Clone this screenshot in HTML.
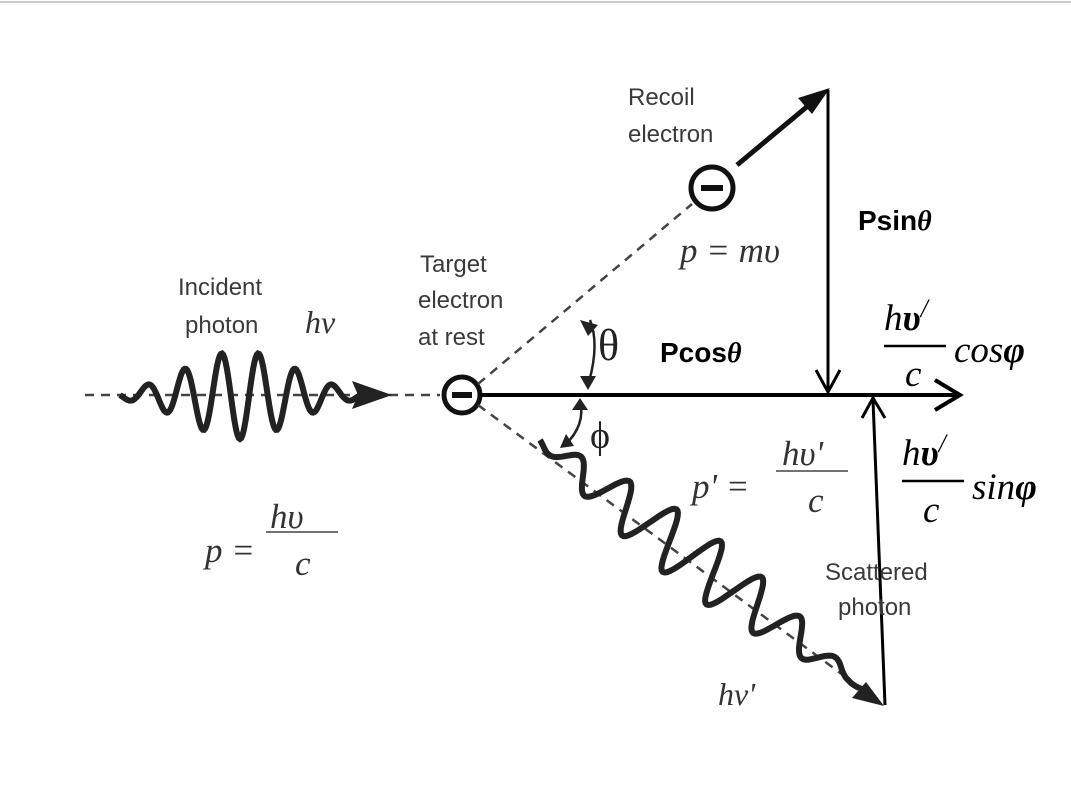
<!DOCTYPE html>
<html><head><meta charset="utf-8"><style>
html,body{margin:0;padding:0;background:#fff;}
svg{display:block}
.sans{font-family:"Liberation Sans",sans-serif;fill:#3a3a3a}
.ser{font-family:"Liberation Serif",serif;font-style:italic;fill:#333}
.cam{font-family:"Liberation Serif",serif;font-style:italic;fill:#000}
.b{font-family:"Liberation Sans",sans-serif;font-weight:bold;fill:#000}
</style></head><body>
<svg width="1071" height="808" viewBox="0 0 1071 808">
<line x1="0" y1="2" x2="1071" y2="2" stroke="#ccc" stroke-width="2"/>
<line x1="85" y1="395" x2="440" y2="395" stroke="#444" stroke-width="2.5" stroke-dasharray="9,7"/>
<path id="inwave" fill="none" stroke="#222" stroke-width="6"/>
<polygon points="392,395 352,381 358,395 352,409" fill="#222"/>
<circle cx="462" cy="395" r="18" fill="#fff" stroke="#111" stroke-width="5"/>
<rect x="452" y="392" width="20" height="6" fill="#111"/>
<line x1="480" y1="395" x2="958" y2="395" stroke="#000" stroke-width="4"/>
<polyline points="935,380 960,395 935,410" fill="none" stroke="#000" stroke-width="4"/>
<line x1="478" y1="384" x2="692" y2="204" stroke="#444" stroke-width="2.5" stroke-dasharray="9,7"/>
<circle cx="712" cy="188" r="21" fill="#fff" stroke="#111" stroke-width="5"/>
<rect x="701" y="185" width="22" height="6" fill="#111"/>
<line x1="737" y1="165" x2="815" y2="100" stroke="#111" stroke-width="5" />
<polygon points="830,88 798,98 812,114" fill="#111"/>
<line x1="828" y1="90" x2="828" y2="390" stroke="#000" stroke-width="3"/>
<polyline points="816,370 828,392 840,370" fill="none" stroke="#000" stroke-width="3"/>
<line x1="478" y1="405" x2="870" y2="695" stroke="#444" stroke-width="2.5" stroke-dasharray="9,7"/>
<path id="scwave" fill="none" stroke="#222" stroke-width="6"/>
<polygon points="884,706 852,698 866,682" fill="#222"/>
<line x1="885" y1="705" x2="873" y2="400" stroke="#000" stroke-width="3"/>
<polyline points="862,418 873,398 885,418" fill="none" stroke="#000" stroke-width="3"/>
<path d="M590,320 Q600,345 588,385" fill="none" stroke="#222" stroke-width="2.5"/>
<polygon points="580,320 598,325 588,336" fill="#222"/><polygon points="588,390 580,376 596,376" fill="#222"/>
<path d="M580,400 Q586,425 565,445" fill="none" stroke="#222" stroke-width="2.5"/>
<polygon points="580,398 572,410 588,410" fill="#222"/><polygon points="560,448 566,434 574,446" fill="#222"/>
<text class="sans" x="178" y="295" font-size="24">Incident</text>
<text class="sans" x="185" y="333" font-size="24">photon</text>
<text class="ser" x="305" y="333" font-size="32">hν</text>
<text class="sans" x="420" y="272" font-size="24">Target</text>
<text class="sans" x="418" y="308" font-size="24">electron</text>
<text class="sans" x="418" y="345" font-size="24">at rest</text>
<text x="598" y="360" font-size="44" font-family="Liberation Serif,serif" fill="#222">θ</text>
<text x="590" y="448" font-size="38" font-family="Liberation Serif,serif" fill="#222">ϕ</text>
<text class="sans" x="628" y="105" font-size="24">Recoil</text>
<text class="sans" x="628" y="142" font-size="24">electron</text>
<text class="ser" x="680" y="262" font-size="35">p = mυ</text>
<text class="b" x="858" y="230" font-size="28">Psin<tspan class="cam" font-weight="bold">θ</tspan></text>
<text class="b" x="660" y="362" font-size="28">Pcos<tspan class="cam" font-weight="bold">θ</tspan></text>
<g>
<text class="cam" x="884" y="330" font-size="37">h<tspan font-weight="bold">υ</tspan><tspan font-size="26" dy="-13">/</tspan></text>
<line x1="884" y1="346" x2="946" y2="346" stroke="#000" stroke-width="2.5"/>
<text class="cam" x="905" y="386" font-size="37">c</text>
<text class="cam" x="954" y="362" font-size="37">cos<tspan font-weight="bold">φ</tspan></text></g>
<g>
<text class="cam" x="902" y="465" font-size="37">h<tspan font-weight="bold">υ</tspan><tspan font-size="26" dy="-13">/</tspan></text>
<line x1="902" y1="481" x2="964" y2="481" stroke="#000" stroke-width="2.5"/>
<text class="cam" x="923" y="522" font-size="37">c</text>
<text class="cam" x="972" y="499" font-size="37">sin<tspan font-weight="bold">φ</tspan></text></g>
<g>
<text class="ser" x="205" y="562" font-size="35">p =</text>
<text class="ser" x="270" y="528" font-size="35">hυ</text>
<line x1="266" y1="532" x2="338" y2="532" stroke="#444" stroke-width="1.5"/>
<text class="ser" x="295" y="575" font-size="35">c</text></g>
<g>
<text class="ser" x="692" y="498" font-size="35">p' =</text>
<text class="ser" x="782" y="465" font-size="35">hυ'</text>
<line x1="776" y1="471" x2="848" y2="471" stroke="#444" stroke-width="1.5"/>
<text class="ser" x="808" y="512" font-size="35">c</text></g>
<text class="sans" x="825" y="580" font-size="24">Scattered</text>
<text class="sans" x="838" y="615" font-size="24">photon</text>
<text class="ser" x="718" y="705" font-size="32">hν'</text>
</svg>
<script>
(function(){
 var d='';
 for(var i=0;i<=200;i++){var t=i/200;var x=120+t*240;var env=Math.exp(-Math.pow((t-0.5)/0.32,2));var y=395+44*env*Math.sin(t*Math.PI*2*6.5);d+=(i?'L':'M')+x.toFixed(1)+','+y.toFixed(1);}
 document.getElementById('inwave').setAttribute('d',d);
 var x0=540,y0=440,x1=865,y1=690,dx=x1-x0,dy=y1-y0,L=Math.hypot(dx,dy),nx=-dy/L,ny=dx/L,s='';
 for(var j=0;j<=240;j++){var u=j/240;var env2=Math.sin(Math.PI*Math.min(1,u*1.05))*0.9+0.1;var a=30*env2*Math.sin(u*Math.PI*2*7.5);var px=x0+dx*u+nx*a,py=y0+dy*u+ny*a;s+=(j?'L':'M')+px.toFixed(1)+','+py.toFixed(1);}
 document.getElementById('scwave').setAttribute('d',s);
})();
</script>
</body></html>
